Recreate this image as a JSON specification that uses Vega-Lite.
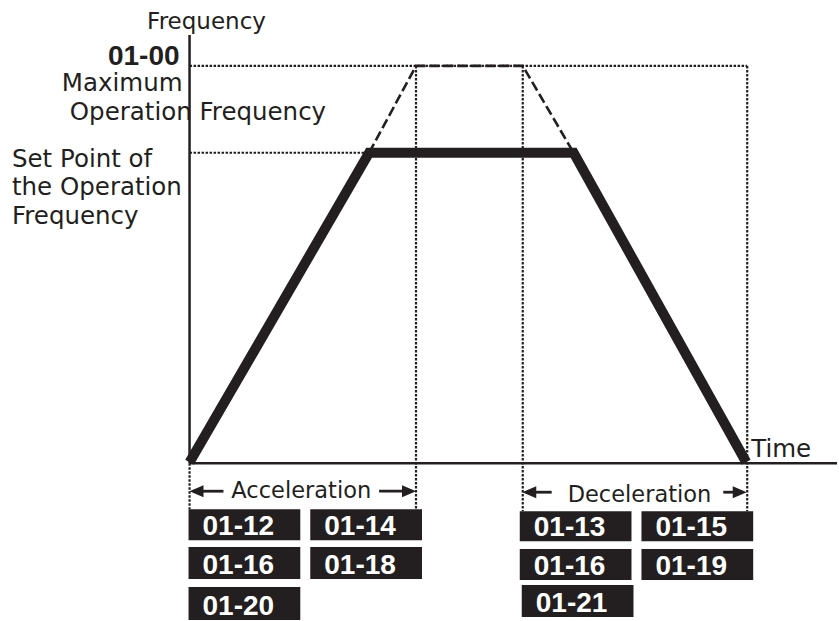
{
  "$schema": "https://vega.github.io/schema/vega-lite/v6.json",
  "autosize": {"type": "fit", "contains": "padding"},
  "padding": 0,
  "width": 839,
  "height": 621,
  "background": "white",
  "config": {"view": {"stroke": null}},
  "datasets": {
    "axes": [
      {"t": 0, "f": 0, "t2": 0, "f2": 429},
      {"t": 0, "f": 0, "t2": 649, "f2": 0}
    ],
    "dotted": [
      {"t": 0, "f": 398, "t2": 559, "f2": 398},
      {"t": 0, "f": 311, "t2": 180, "f2": 311},
      {"t": 227, "f": 398, "t2": 227, "f2": -46},
      {"t": 334, "f": 398, "t2": 334, "f2": -48},
      {"t": 559, "f": 398, "t2": 559, "f2": -48},
      {"t": 0, "f": 0, "t2": 0, "f2": -46}
    ],
    "profile": [
      {"t": 0, "f": 1},
      {"t": 180, "f": 311},
      {"t": 385, "f": 311},
      {"t": 558, "f": 1}
    ],
    "maxProfile": [
      {"t": 180, "f": 311},
      {"t": 227, "f": 398},
      {"t": 334, "f": 398},
      {"t": 385, "f": 311}
    ],
    "arrowLines": [
      {"t": 4, "f": -28, "t2": 34, "f2": -28},
      {"t": 190, "f": -28, "t2": 223, "f2": -28},
      {"t": 338, "f": -29, "t2": 363, "f2": -29},
      {"t": 535, "f": -29, "t2": 554, "f2": -29}
    ],
    "headsLeft": [
      {"t": 7, "f": -28},
      {"t": 340.5, "f": -29}
    ],
    "headsRight": [
      {"t": 220, "f": -28},
      {"t": 551.5, "f": -29}
    ],
    "boxes": [
      {"t": -1, "t2": 111, "f": -46, "f2": -77, "label": "01-12"},
      {"t": 121, "t2": 233, "f": -46, "f2": -77, "label": "01-14"},
      {"t": -1, "t2": 111, "f": -84, "f2": -116, "label": "01-16"},
      {"t": 121, "t2": 233, "f": -84, "f2": -116, "label": "01-18"},
      {"t": -1, "t2": 111, "f": -124, "f2": -157, "label": "01-20"},
      {"t": 331, "t2": 443, "f": -48, "f2": -78, "label": "01-13"},
      {"t": 453, "t2": 565, "f": -48, "f2": -78, "label": "01-15"},
      {"t": 331, "t2": 443, "f": -86, "f2": -117, "label": "01-16"},
      {"t": 453, "t2": 565, "f": -86, "f2": -117, "label": "01-19"},
      {"t": 333, "t2": 445, "f": -122, "f2": -154, "label": "01-21"}
    ],
    "titleLabel": [{"t": 17, "f": 435, "label": "Frequency"}],
    "maxCode": [{"t": -10, "f": 399, "label": "01-00"}],
    "rightLabels": [{"t": -7, "f": 373, "label": "Maximum"}],
    "leftLabels": [
      {"t": -120, "f": 344, "label": "Operation Frequency"},
      {"t": -178, "f": 297, "label": "Set Point of"},
      {"t": -178, "f": 269, "label": "the Operation"},
      {"t": -178, "f": 240, "label": "Frequency"},
      {"t": 563, "f": 6, "label": "Time"}
    ],
    "centerLabels": [
      {"t": 112, "f": -35, "label": "Acceleration"},
      {"t": 451, "f": -39, "label": "Deceleration"}
    ]
  },
  "layer": [
    {
      "data": {"name": "dotted"},
      "mark": {"type": "rule", "color": "#231f20", "strokeWidth": 2.2, "strokeDash": [2.5, 1.5]},
      "encoding": {
        "x": {"field": "t", "type": "quantitative", "scale": {"domain": [-190, 649], "nice": false, "zero": false}, "axis": null},
        "y": {"field": "f", "type": "quantitative", "scale": {"domain": [-157, 464], "nice": false, "zero": false}, "axis": null},
        "x2": {"field": "t2"},
        "y2": {"field": "f2"}
      }
    },
    {
      "data": {"name": "axes"},
      "mark": {"type": "rule", "color": "#231f20", "strokeWidth": 2.5},
      "encoding": {
        "x": {"field": "t", "type": "quantitative", "scale": {"domain": [-190, 649], "nice": false, "zero": false}, "axis": null},
        "y": {"field": "f", "type": "quantitative", "scale": {"domain": [-157, 464], "nice": false, "zero": false}, "axis": null},
        "x2": {"field": "t2"},
        "y2": {"field": "f2"}
      }
    },
    {
      "data": {"name": "maxProfile"},
      "mark": {"type": "line", "color": "#231f20", "strokeWidth": 2.6, "strokeDash": [10, 4]},
      "encoding": {
        "x": {"field": "t", "type": "quantitative", "scale": {"domain": [-190, 649], "nice": false, "zero": false}, "axis": null},
        "y": {"field": "f", "type": "quantitative", "scale": {"domain": [-157, 464], "nice": false, "zero": false}, "axis": null}
      }
    },
    {
      "data": {"name": "profile"},
      "mark": {"type": "line", "color": "#231f20", "strokeWidth": 10, "strokeJoin": "miter", "strokeCap": "butt"},
      "encoding": {
        "x": {"field": "t", "type": "quantitative", "scale": {"domain": [-190, 649], "nice": false, "zero": false}, "axis": null},
        "y": {"field": "f", "type": "quantitative", "scale": {"domain": [-157, 464], "nice": false, "zero": false}, "axis": null}
      }
    },
    {
      "data": {"name": "arrowLines"},
      "mark": {"type": "rule", "color": "#231f20", "strokeWidth": 2.8},
      "encoding": {
        "x": {"field": "t", "type": "quantitative", "scale": {"domain": [-190, 649], "nice": false, "zero": false}, "axis": null},
        "y": {"field": "f", "type": "quantitative", "scale": {"domain": [-157, 464], "nice": false, "zero": false}, "axis": null},
        "x2": {"field": "t2"},
        "y2": {"field": "f2"}
      }
    },
    {
      "data": {"name": "headsLeft"},
      "mark": {"type": "point", "shape": "M1,-0.85L-1,0L1,0.85Z", "filled": true, "color": "#231f20", "opacity": 1, "size": 196},
      "encoding": {
        "x": {"field": "t", "type": "quantitative", "scale": {"domain": [-190, 649], "nice": false, "zero": false}, "axis": null},
        "y": {"field": "f", "type": "quantitative", "scale": {"domain": [-157, 464], "nice": false, "zero": false}, "axis": null}
      }
    },
    {
      "data": {"name": "headsRight"},
      "mark": {"type": "point", "shape": "M-1,-0.85L1,0L-1,0.85Z", "filled": true, "color": "#231f20", "opacity": 1, "size": 196},
      "encoding": {
        "x": {"field": "t", "type": "quantitative", "scale": {"domain": [-190, 649], "nice": false, "zero": false}, "axis": null},
        "y": {"field": "f", "type": "quantitative", "scale": {"domain": [-157, 464], "nice": false, "zero": false}, "axis": null}
      }
    },
    {
      "data": {"name": "boxes"},
      "mark": {"type": "rect", "color": "#231f20"},
      "encoding": {
        "x": {"field": "t", "type": "quantitative", "scale": {"domain": [-190, 649], "nice": false, "zero": false}, "axis": null},
        "y": {"field": "f", "type": "quantitative", "scale": {"domain": [-157, 464], "nice": false, "zero": false}, "axis": null},
        "x2": {"field": "t2"},
        "y2": {"field": "f2"}
      }
    },
    {
      "data": {"name": "boxes"},
      "mark": {"type": "text", "align": "left", "baseline": "alphabetic", "dx": 14, "dy": -5, "font": "Liberation Sans", "fontWeight": "bold", "fontSize": 28, "color": "white"},
      "encoding": {
        "x": {"field": "t", "type": "quantitative", "scale": {"domain": [-190, 649], "nice": false, "zero": false}, "axis": null},
        "y": {"field": "f2", "type": "quantitative", "scale": {"domain": [-157, 464], "nice": false, "zero": false}, "axis": null},
        "text": {"field": "label"}
      }
    },
    {
      "data": {"name": "titleLabel"},
      "mark": {"type": "text", "align": "center", "baseline": "alphabetic", "font": "DejaVu Sans", "fontSize": 23, "color": "#231f20"},
      "encoding": {
        "x": {"field": "t", "type": "quantitative", "scale": {"domain": [-190, 649], "nice": false, "zero": false}, "axis": null},
        "y": {"field": "f", "type": "quantitative", "scale": {"domain": [-157, 464], "nice": false, "zero": false}, "axis": null},
        "text": {"field": "label"}
      }
    },
    {
      "data": {"name": "maxCode"},
      "mark": {"type": "text", "align": "right", "baseline": "alphabetic", "font": "Liberation Sans", "fontWeight": "bold", "fontSize": 28, "color": "#231f20"},
      "encoding": {
        "x": {"field": "t", "type": "quantitative", "scale": {"domain": [-190, 649], "nice": false, "zero": false}, "axis": null},
        "y": {"field": "f", "type": "quantitative", "scale": {"domain": [-157, 464], "nice": false, "zero": false}, "axis": null},
        "text": {"field": "label"}
      }
    },
    {
      "data": {"name": "rightLabels"},
      "mark": {"type": "text", "align": "right", "baseline": "alphabetic", "font": "DejaVu Sans", "fontSize": 24.5, "color": "#231f20"},
      "encoding": {
        "x": {"field": "t", "type": "quantitative", "scale": {"domain": [-190, 649], "nice": false, "zero": false}, "axis": null},
        "y": {"field": "f", "type": "quantitative", "scale": {"domain": [-157, 464], "nice": false, "zero": false}, "axis": null},
        "text": {"field": "label"}
      }
    },
    {
      "data": {"name": "leftLabels"},
      "mark": {"type": "text", "align": "left", "baseline": "alphabetic", "font": "DejaVu Sans", "fontSize": 24.5, "color": "#231f20"},
      "encoding": {
        "x": {"field": "t", "type": "quantitative", "scale": {"domain": [-190, 649], "nice": false, "zero": false}, "axis": null},
        "y": {"field": "f", "type": "quantitative", "scale": {"domain": [-157, 464], "nice": false, "zero": false}, "axis": null},
        "text": {"field": "label"}
      }
    },
    {
      "data": {"name": "centerLabels"},
      "mark": {"type": "text", "align": "center", "baseline": "alphabetic", "font": "DejaVu Sans", "fontSize": 22.5, "color": "#231f20"},
      "encoding": {
        "x": {"field": "t", "type": "quantitative", "scale": {"domain": [-190, 649], "nice": false, "zero": false}, "axis": null},
        "y": {"field": "f", "type": "quantitative", "scale": {"domain": [-157, 464], "nice": false, "zero": false}, "axis": null},
        "text": {"field": "label"}
      }
    }
  ]
}
